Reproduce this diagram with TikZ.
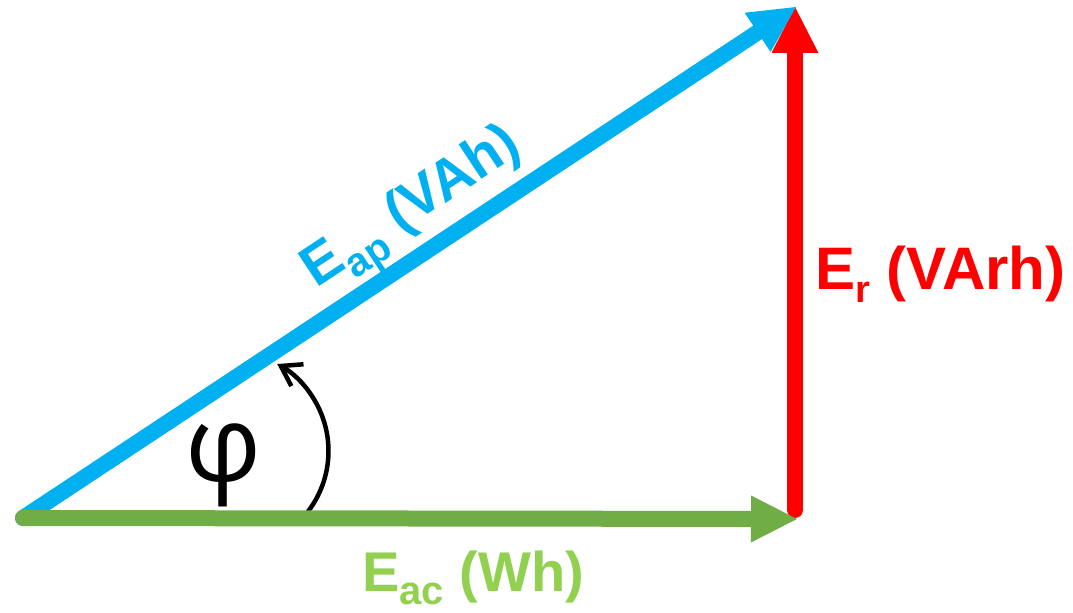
\documentclass[tikz,border=0pt]{standalone}
\usepackage{fontspec}
\setmainfont{Liberation Sans}
\newfontfamily\phifont{Open Sans}
\usetikzlibrary{arrows.meta}
\definecolor{cblue}{HTML}{00B0F0}
\definecolor{cred}{HTML}{FF0000}
\definecolor{cgreenline}{HTML}{70AD47}
\definecolor{cgreentext}{HTML}{92D050}
\newcommand\lowsub[3]{\raisebox{-#1}{\fontsize{#2}{#2}\selectfont #3}}
\begin{document}
\begin{tikzpicture}[x=1bp,y=-1bp,
  vec/.style={line width=16bp, line cap=round,
    -{Triangle[length=46bp,width=47bp,line width=0pt]}},
  lbl/.style={inner sep=0pt, anchor=base west}]
\useasboundingbox (0,0) rectangle (1073,613);
\coordinate (O) at (23,518);
\coordinate (Pg) at (797,519);
\coordinate (Pr0) at (795,510);
\coordinate (Pr) at (795,7);
\coordinate (Pb) at (796,7);
\coordinate (S) at (307.4,512.3);
% reactive
\draw[vec, cred] (Pr0) -- (Pr);
% apparent
\draw[vec, cblue] (O) -- (Pb);
% angle arc
\draw[line width=4.5bp, -{Straight Barb[length=19bp,width=25bp]}]
  (S) arc[start angle=38, end angle=-61, radius=99.5];
% active
\draw[vec, cgreenline] (O) -- (Pg);
% phi
\node[font=\phifont\fontsize{106bp}{106bp}\selectfont, anchor=base, inner sep=0pt] (phi) at (224,481) {φ};
% labels
\node[lbl, text=cred, font=\bfseries\fontsize{60bp}{60bp}\selectfont] (Er) at (815,290)
  {E\lowsub{13bp}{38bp}{r} (VArh)};
\node[lbl, text=cgreentext, font=\bfseries\fontsize{56bp}{56bp}\selectfont] (Eac) at (362,591)
  {E\lowsub{13bp}{40bp}{ac} (Wh)};
\node[lbl, text=cblue, rotate=33.47, font=\bfseries\fontsize{57bp}{57bp}\selectfont] (Eap) at (316,289)
  {E\lowsub{14bp}{40bp}{ap} (VAh)};
\end{tikzpicture}
\end{document}
